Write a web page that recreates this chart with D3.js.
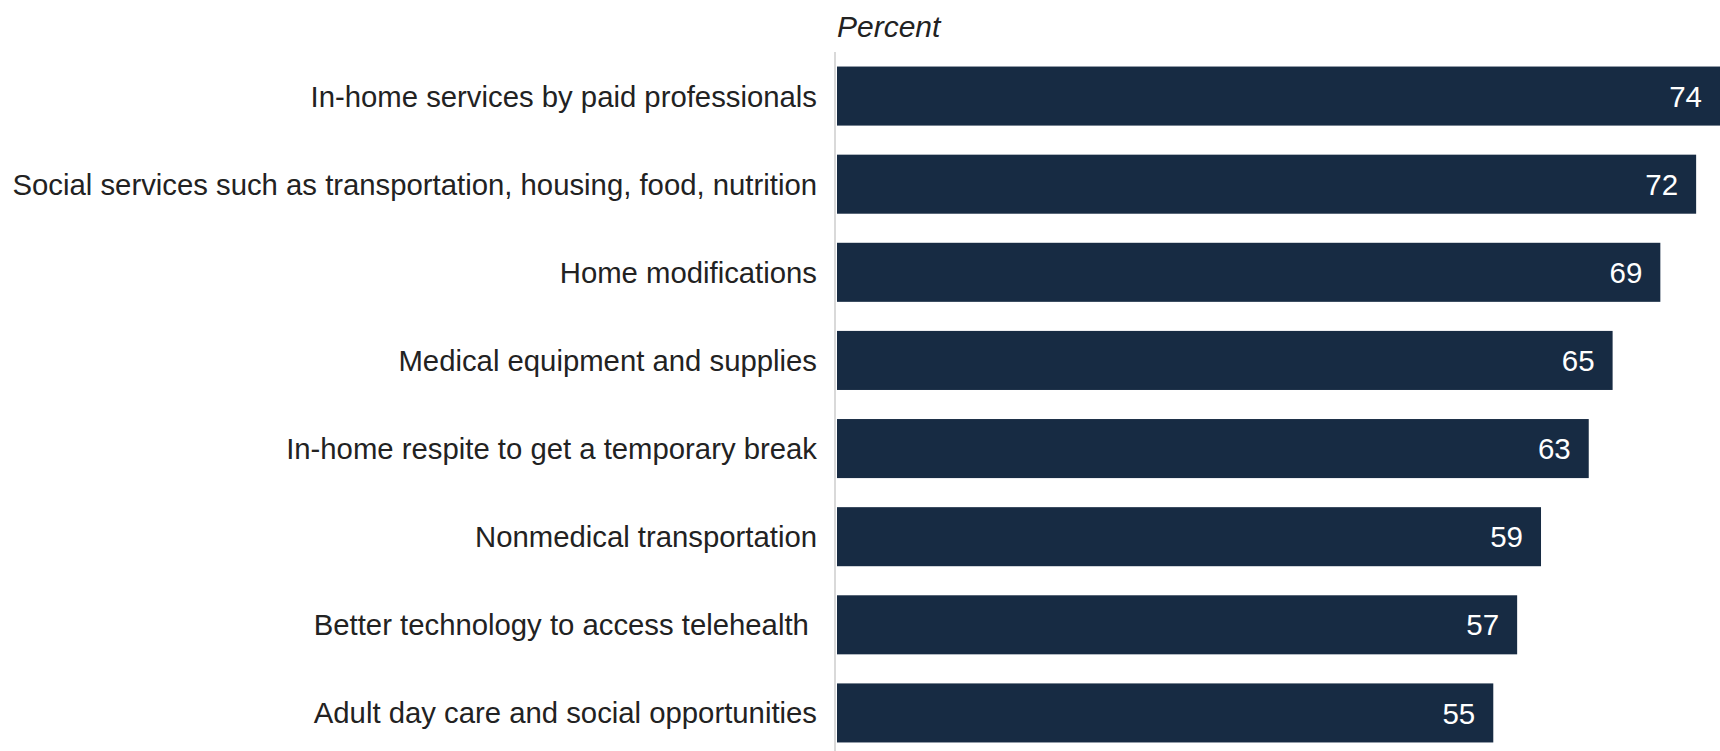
<!DOCTYPE html>
<html>
<head>
<meta charset="utf-8">
<script src="https://cdn.jsdelivr.net/npm/d3@7"></script>
<style>
  body { margin: 0; background: #fff; }
  svg { display: block; font-family: "Liberation Sans", Arial, sans-serif; }
</style>
</head>
<body>
<svg></svg>
<script>
const categories = [
  "In-home services by paid professionals",
  "Social services such as transportation, housing, food, nutrition",
  "Home modifications",
  "Medical equipment and supplies",
  "In-home respite to get a temporary break",
  "Nonmedical transportation",
  "Better technology to access telehealth ",
  "Adult day care and social opportunities"
];
const values = [74, 72, 69, 65, 63, 59, 57, 55];

const width = 1720, height = 751;
const svg = d3.select('svg')
  .attr('width', width)
  .attr('height', height);

const x = d3.scaleLinear().domain([0, 74]).range([837, 1720]);
const y = d3.scaleBand()
  .domain(categories)
  .range([52, 757])
  .paddingInner(0.33)
  .paddingOuter(0.165);

// vertical baseline
svg.append('line')
  .attr('x1', 835).attr('x2', 835)
  .attr('y1', 52).attr('y2', height)
  .attr('stroke', '#d9d9d9')
  .attr('stroke-width', 2);

svg.append('text')
  .attr('x', 837).attr('y', 37)
  .attr('font-size', 30)
  .attr('font-style', 'italic')
  .attr('fill', '#222')
  .text('Percent');

const rows = categories.map((c, i) => ({ cat: c, val: values[i] }));

svg.selectAll('rect.bar')
  .data(rows)
  .enter().append('rect')
  .attr('class', 'bar')
  .attr('x', x(0))
  .attr('y', d => y(d.cat))
  .attr('width', d => x(d.val) - x(0))
  .attr('height', y.bandwidth())
  .attr('fill', '#172b43');

svg.selectAll('text.val')
  .data(rows)
  .enter().append('text')
  .attr('class', 'val')
  .attr('x', d => x(d.val) - 18)
  .attr('y', d => y(d.cat) + y.bandwidth() / 2)
  .attr('dy', '0.36em')
  .attr('text-anchor', 'end')
  .attr('font-size', 29.5)
  .attr('fill', '#fff')
  .text(d => d.val);

svg.selectAll('text.cat')
  .data(rows)
  .enter().append('text')
  .attr('class', 'cat')
  .attr('x', 817)
  .attr('y', d => y(d.cat) + y.bandwidth() / 2)
  .attr('dy', '0.36em')
  .attr('text-anchor', 'end')
  .attr('font-size', 29.3)
  .attr('fill', '#222')
  .style('white-space', 'pre')
  .text(d => d.cat);
</script>
</body>
</html>
